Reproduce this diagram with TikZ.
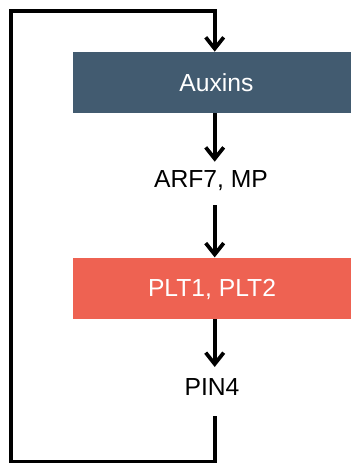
\documentclass[tikz,border=0pt]{standalone}
\usepackage{fontspec}
\setmainfont{Liberation Sans}
\usetikzlibrary{arrows.meta}
\definecolor{auxblue}{RGB}{66,91,112}
\definecolor{pltred}{RGB}{238,98,82}
\begin{document}
\begin{tikzpicture}[x=0.75pt,y=-0.75pt,
  box/.style={rectangle, minimum width=208.5pt, minimum height=45.9pt, inner sep=0pt,
    text=white, text depth=0pt, font=\fontsize{18.5}{22}\selectfont},
  lbl/.style={inner sep=0pt, anchor=base, font=\fontsize{18.5}{22}\selectfont},
  link/.style={line width=2.8pt, line join=miter},
  arr/.style={link, -{Straight Barb[length=8.5pt,width=13.5pt]}}]
\useasboundingbox (0,0) rectangle (351,463);
\coordinate (col) at (214.7,0);
\node[box, fill=auxblue] (aux) at (212,82.5) {\hspace*{6.75pt}Auxins};
\node[box, fill=pltred] (plt) at (212,288.3) {PLT1, PLT2};
\node[lbl] (arf) at (211,187) {ARF7, MP};
\node[lbl] (pin) at (212,395) {PIN4};
\coordinate (arfin) at (214.7,161.7);
\coordinate (arfout) at (214.7,205);
\coordinate (pinin) at (214.7,367);
\coordinate (pinout) at (214.7,416);
\coordinate (c1) at (214.7,461.5);
\coordinate (c2) at (11.3,461.5);
\coordinate (c3) at (11.3,11.3);
\coordinate (c4) at (214.7,11.3);
\draw[arr] (pinout) -- (c1) -- (c2) -- (c3) -- (c4) -- (aux.north -| col);
\draw[arr] (aux.south -| col) -- (arfin);
\draw[arr] (arfout) -- (plt.north -| col);
\draw[arr] (plt.south -| col) -- (pinin);
\end{tikzpicture}
\end{document}
